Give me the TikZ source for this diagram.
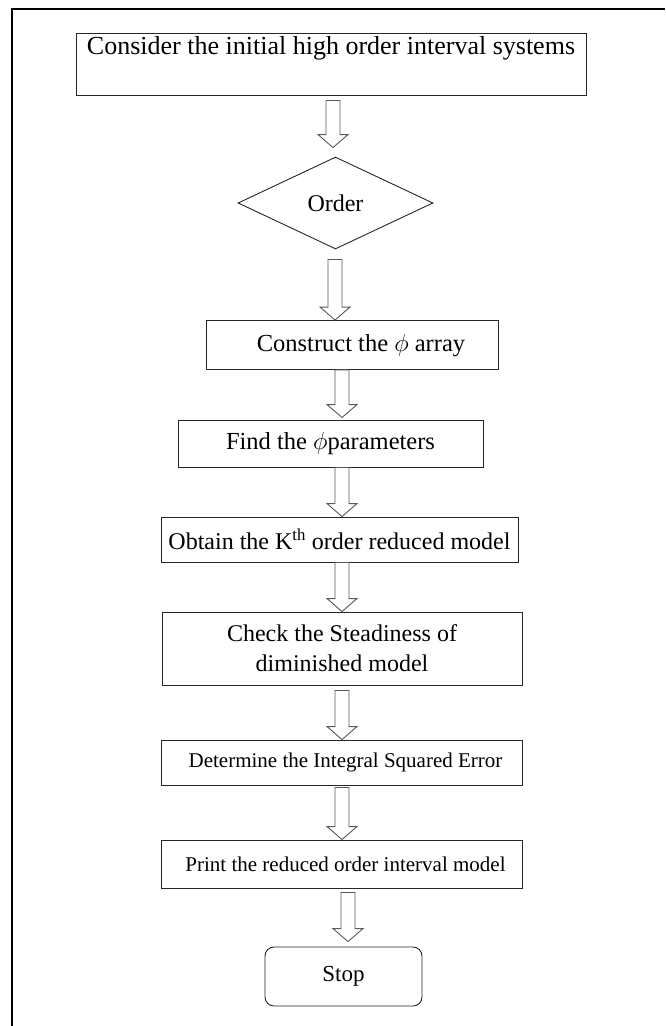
\documentclass[tikz,border=0pt]{standalone}
\usepackage{fontspec}
\setmainfont{Liberation Serif}
\usetikzlibrary{shapes.geometric,calc}
\tikzset{
  box/.style={draw=black!85, line width=0.9pt, inner sep=0pt, font=\fontsize{23}{28}\selectfont, align=center},
  diam/.style={box, diamond, aspect=2.1},
  stopbox/.style={box, rounded corners=9pt},
  harrow/.style={draw=black!65, line width=0.9pt, fill=white, line join=miter},
  frameline/.style={draw=black, line width=2pt},
}
\newcommand\blockarr[5]{% x, from, to, top gap, bottom gap
  \draw[harrow] let \p1=(#2.south), \p2=(#3.north) in
    (#1pt-7pt,\y1-#4pt) -- (#1pt-7pt,\y2+#5pt+13pt) -- (#1pt-15pt,\y2+#5pt+13pt)
    -- (#1pt,\y2+#5pt) -- (#1pt+15pt,\y2+#5pt+13pt) -- (#1pt+7pt,\y2+#5pt+13pt)
    -- (#1pt+7pt,\y1-#4pt) -- cycle;}
\begin{document}
\begin{tikzpicture}[x=1pt,y=-1pt]
\useasboundingbox (0,0) rectangle (665,1026);
\draw[frameline] (665,9) -- (12,9) -- (12,1026);

\node[box, font=\fontsize{26}{30}\selectfont, minimum width=510pt, minimum height=62pt] (b1) at (331,64) {Consider the initial high order interval systems\\[-2pt] \strut};
\node[diam, font=\fontsize{24}{29}\selectfont, minimum width=195pt, minimum height=92pt] (d) at (335.5,203) {Order};
\node[box, font=\fontsize{24.5}{29}\selectfont, minimum width=292pt, minimum height=49pt] (b2) at (352,345) {\hspace*{18pt}Construct the $\phi$ array};
\node[box, font=\fontsize{24.5}{29}\selectfont, minimum width=305pt, minimum height=47pt] (b3) at (330.5,443.5) {Find the $\phi$parameters};
\node[box, font=\fontsize{24}{28}\selectfont, minimum width=357pt, minimum height=45pt] (b4) at (339.5,539.5) {Obtain the K\textsuperscript{th} order reduced model};
\node[box, font=\fontsize{24}{30}\selectfont, minimum width=360pt, minimum height=73pt] (b5) at (342,648.5) {Check the Steadiness of\\ diminished model};
\node[box, font=\fontsize{21}{25}\selectfont, minimum width=361pt, minimum height=45pt] (b6) at (341.5,762.5) {\hspace*{8pt}Determine the Integral Squared Error};
\node[box, font=\fontsize{21}{25}\selectfont, minimum width=361pt, minimum height=48pt] (b7) at (341.5,864) {\hspace*{8pt}Print the reduced order interval model};
\node[stopbox, font=\fontsize{23}{28}\selectfont, minimum width=157pt, minimum height=59pt] (s) at (343.5,976.5) {Stop};

\blockarr{333}{b1}{d}{5}{9}
\blockarr{335}{d}{b2}{10}{0}
\blockarr{342}{b2}{b3}{0}{2}
\blockarr{342}{b3}{b4}{0}{0}
\blockarr{342}{b4}{b5}{0}{0}
\blockarr{342}{b5}{b6}{5}{0}
\blockarr{342}{b6}{b7}{2}{0}
\blockarr{348}{b7}{s}{4}{5}
\end{tikzpicture}
\end{document}
